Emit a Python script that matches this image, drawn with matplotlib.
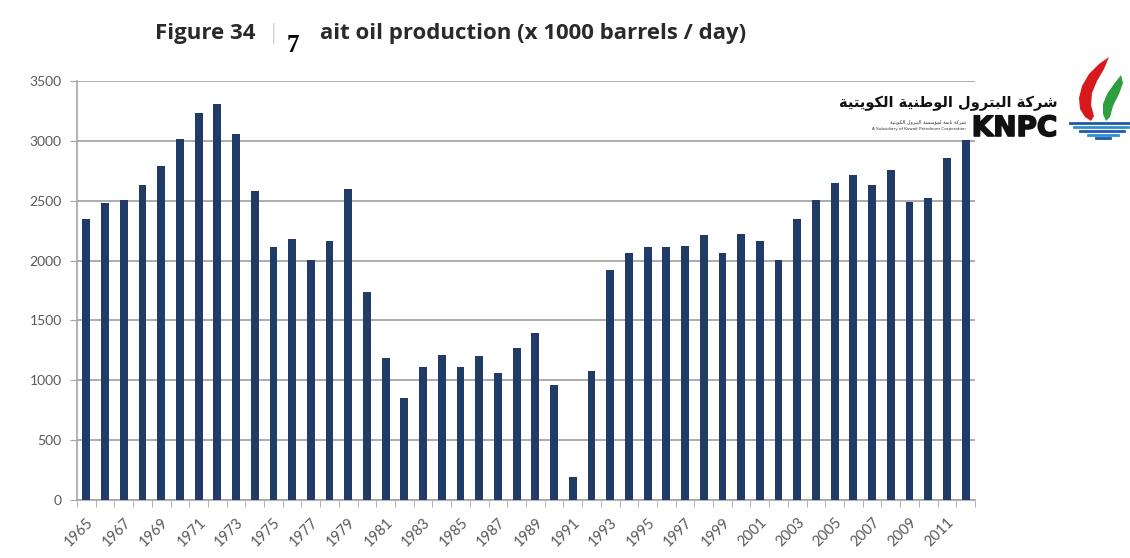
import numpy as np
import matplotlib.pyplot as plt
import matplotlib.patheffects as pe
from matplotlib.patches import Polygon

years = list(range(1965, 2013))
production = [2350, 2480, 2510, 2630, 2790, 3015, 3230, 3310, 3060, 2580,
              2110, 2180, 2005, 2160, 2600, 1740, 1185, 855, 1115, 1210,
              1110, 1200, 1060, 1270, 1395, 960, 190, 1075, 1920, 2065,
              2110, 2110, 2125, 2210, 2065, 2220, 2160, 2005, 2350, 2505,
              2650, 2715, 2635, 2760, 2490, 2520, 2860, 3010]
yticks = [0, 500, 1000, 1500, 2000, 2500, 3000, 3500]

company_ar = "شركة البترول الوطنية الكويتية"
subsidiary_ar = "شركة تابعة لمؤسسة البترول الكويتية"
subsidiary_en = "A Subsidiary of Kuwait Petroleum Corporation"

W, H = 1130, 558

# Arabic presentation forms: (isolated, final, initial, medial)
forms = {
    'ا': ('\uFE8D', '\uFE8E', None, None),
    'ؤ': ('\uFE85', '\uFE86', None, None),
    'ب': ('\uFE8F', '\uFE90', '\uFE91', '\uFE92'),
    'ة': ('\uFE93', '\uFE94', None, None),
    'ت': ('\uFE95', '\uFE96', '\uFE97', '\uFE98'),
    'ر': ('\uFEAD', '\uFEAE', None, None),
    'س': ('\uFEB1', '\uFEB2', '\uFEB3', '\uFEB4'),
    'ش': ('\uFEB5', '\uFEB6', '\uFEB7', '\uFEB8'),
    'ط': ('\uFEC1', '\uFEC2', '\uFEC3', '\uFEC4'),
    'ع': ('\uFEC9', '\uFECA', '\uFECB', '\uFECC'),
    'ك': ('\uFED9', '\uFEDA', '\uFEDB', '\uFEDC'),
    'ل': ('\uFEDD', '\uFEDE', '\uFEDF', '\uFEE0'),
    'م': ('\uFEE1', '\uFEE2', '\uFEE3', '\uFEE4'),
    'ن': ('\uFEE5', '\uFEE6', '\uFEE7', '\uFEE8'),
    'و': ('\uFEED', '\uFEEE', None, None),
    'ي': ('\uFEF1', '\uFEF2', '\uFEF3', '\uFEF4'),
}


def shape_arabic(s):
    out = []
    for i, ch in enumerate(s):
        if ch not in forms:
            out.append(ch)
            continue
        prev = s[i - 1] if i > 0 else ' '
        nxt = s[i + 1] if i + 1 < len(s) else ' '
        joins_prev = prev in forms and forms[prev][2] is not None
        joins_next = nxt in forms and forms[ch][2] is not None
        iso, fin, ini, med = forms[ch]
        if joins_prev and joins_next:
            out.append(med)
        elif joins_prev:
            out.append(fin)
        elif joins_next:
            out.append(ini)
        else:
            out.append(iso)
    return ''.join(reversed(out))


def px(x, y):
    return (x / W, 1 - y / H)


fig = plt.figure(figsize=(W / 100, H / 100), dpi=100)
ax = fig.add_axes([77 / W, 1 - 500 / H, 898 / W, 419 / H])

x = np.arange(len(years))
ax.bar(x, production, width=0.42, color='#1f3b66', zorder=3)

ax.set_xlim(-0.5, len(years) - 0.5)
ax.set_ylim(0, 3500)
ax.set_yticks(yticks)
ax.set_yticklabels([str(v) for v in yticks], fontsize=10, color='#595959',
                   family='Lato')
ax.yaxis.grid(True, color='#a6a6a6', linewidth=1.3, zorder=0)
ax.tick_params(axis='y', length=5, color='#a6a6a6', pad=6)

ax.set_xticks(x[::2])
ax.set_xticklabels([str(y) for y in years[::2]], rotation=45, ha='right',
                   rotation_mode='anchor', fontsize=10.5, color='#595959',
                   family='Lato')
ax.set_xticks(np.arange(len(years) + 1) - 0.5, minor=True)
ax.tick_params(axis='x', which='major', length=0, pad=11)
ax.tick_params(axis='x', which='minor', length=5, color='#a6a6a6')

for side in ['top', 'right']:
    ax.spines[side].set_visible(False)
ax.spines['left'].set_color('#a6a6a6')
ax.spines['bottom'].set_color('#a6a6a6')
ax.spines['left'].set_linewidth(1.2)
ax.spines['bottom'].set_linewidth(1.2)

# heading
fig.text(*px(155, 34), "Figure 34", fontsize=16, fontweight='bold',
         color='#2a2a2a', va='center', ha='left', family='Open Sans')
fig.text(*px(268, 34), "|", fontsize=15, color='#d0d0d0', va='center',
         ha='left', family='Open Sans')
fig.text(*px(287, 46), "7", fontsize=18, fontweight='bold', color='#000000',
         va='center', ha='left', family='Liberation Serif')
fig.text(*px(320, 34), "ait oil production (x 1000 barrels / day)",
         fontsize=16, fontweight='bold', color='#2a2a2a', va='center',
         ha='left', family='Open Sans')

# company mark
fig.text(*px(1058, 103), shape_arabic(company_ar), fontsize=10.5,
         fontweight='bold', color='#111111', ha='right', va='center',
         family='DejaVu Sans', zorder=5)
fig.text(*px(1057, 128), "KNPC", fontsize=20, fontweight='bold',
         color='#111111', ha='right', va='center', family='DejaVu Sans',
         zorder=5,
         path_effects=[pe.withStroke(linewidth=1.2, foreground='#111111')])
fig.text(*px(966, 122), shape_arabic(subsidiary_ar), fontsize=3.6,
         color='#333333', ha='right', va='center', family='DejaVu Sans',
         zorder=5)
fig.text(*px(966, 129), subsidiary_en, fontsize=3.0, color='#333333',
         ha='right', va='center', zorder=5)

red = [(1109, 57), (1099, 64), (1089, 74), (1082, 86), (1079, 98),
       (1080, 109), (1085, 117), (1091, 121), (1094, 116), (1091, 105),
       (1092, 93), (1097, 81), (1104, 69)]
green = [(1121, 75), (1114, 84), (1107, 94), (1103, 104), (1103, 114),
         (1106, 121), (1110, 117), (1113, 106), (1119, 94), (1123, 83)]
fig.patches.append(Polygon([px(*p) for p in red], closed=True,
                           facecolor='#d7191c', edgecolor='none',
                           transform=fig.transFigure, figure=fig))
fig.patches.append(Polygon([px(*p) for p in green], closed=True,
                           facecolor='#2e9e3e', edgecolor='none',
                           transform=fig.transFigure, figure=fig))
waves = [(1070, 1130, 123, '#1e5aa8'), (1074, 1128, 127, '#2f8fd0'),
         (1080, 1124, 131, '#1e5aa8'), (1088, 1118, 135, '#2f8fd0'),
         (1096, 1110, 138, '#1e5aa8')]
for x0, x1, yy, c in waves:
    fig.lines.append(plt.Line2D([x0 / W, x1 / W], [1 - yy / H, 1 - yy / H],
                                color=c, linewidth=2,
                                transform=fig.transFigure, figure=fig))

fig.savefig('out.png', dpi=100)
